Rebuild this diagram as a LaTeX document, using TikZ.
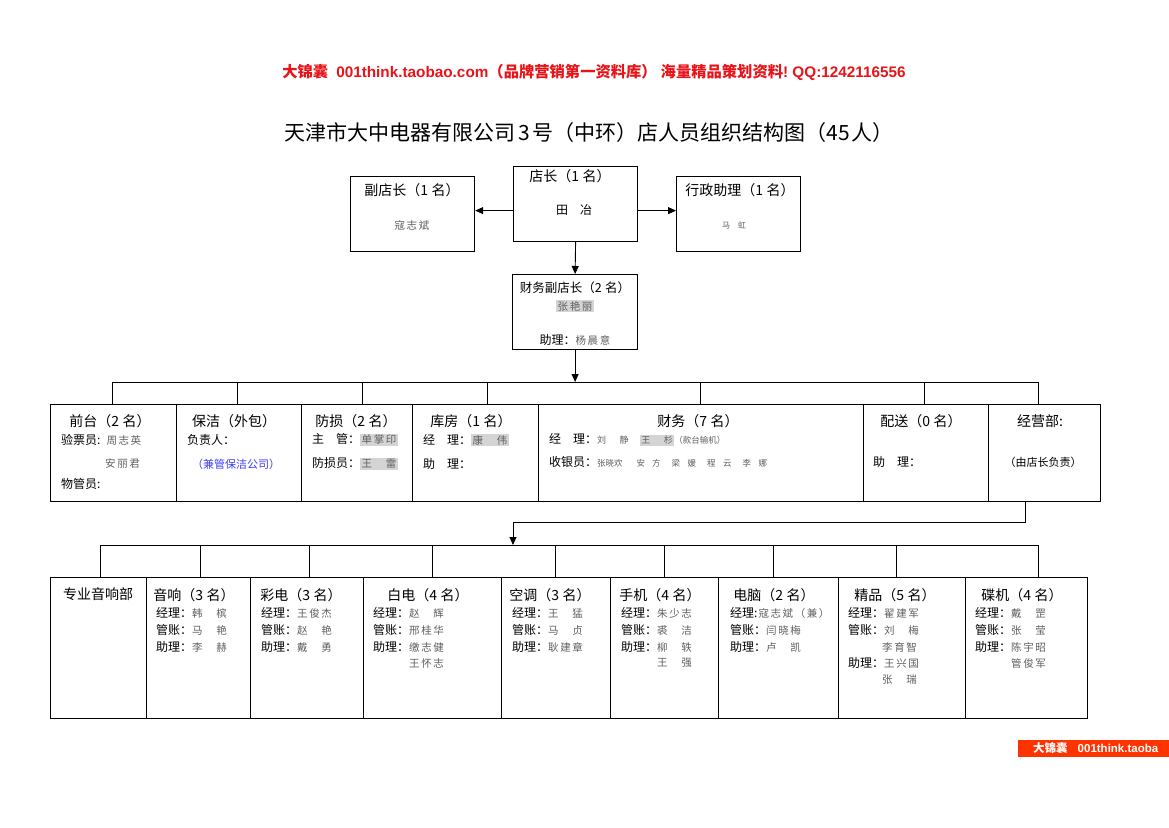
\documentclass[tikz,border=0pt]{standalone}
\usepackage{fontspec}
\setmainfont{Noto Sans CJK SC}
\newfontfamily\nmfont[LetterSpace=15]{Noto Sans CJK SC}
\newfontfamily\nmwide[LetterSpace=25]{Noto Sans CJK SC}
\newfontfamily\nmtight{Noto Sans CJK SC}
\newfontfamily\arialf{Liberation Sans}
\usetikzlibrary{arrows.meta}
\definecolor{hdrred}{RGB}{232,20,26}
\definecolor{ftred}{RGB}{255,51,0}
\definecolor{nmgray}{RGB}{95,95,95}
\definecolor{hlgray}{RGB}{212,212,212}
\definecolor{bluetxt}{RGB}{60,60,255}
\setlength{\fboxsep}{1.5pt}
\newcommand\lbf{\fontsize{12}{12}\selectfont}
\newcommand\hdf{\fontsize{14}{14}\selectfont}
\newcommand\nmx[1]{{\nmfont\fontsize{10.5}{10.5}\selectfont\color{nmgray}#1}}
\newcommand\nmw[1]{{\nmwide\fontsize{9}{9}\selectfont\color{nmgray}#1}}
\newcommand\nmt[1]{{\nmtight\fontsize{8.5}{8.5}\selectfont\color{nmgray}#1}}
\newcommand\hlx[1]{\colorbox{hlgray}{#1}}
\newcommand\cnt[1]{（#1\hspace{3.5pt}名）}
\begin{document}
\begin{tikzpicture}[x=1pt,y=-1pt,
  box/.style={draw, line width=1.2pt, inner sep=0pt, anchor=north west},
  txt/.style={inner sep=0pt, anchor=west},
  ctxt/.style={inner sep=0pt},
  bus/.style={line width=0.9pt},
  arr/.style={line width=0.9pt, -{Triangle[length=8pt,width=7pt]}}]
\useasboundingbox (0,0) rectangle (1169,827);
\fill[white] (0,0) rectangle (1169,827);

% header and title
\node[ctxt, text=hdrred] (hdr) at (594,72) {\bfseries\fontsize{15.3}{15.3}\selectfont 大锦囊\hspace{8pt}{\arialf 001think.taobao.com}（品牌营销第一资料库）\hspace{4pt}海量精品策划资料{\arialf !\ QQ:1242116556}};
\node[ctxt] (title) at (589,133) {\fontsize{21}{21}\selectfont 天津市大中电器有限公司\hspace{3pt}3\hspace{3pt}号（中环）店人员组织结构图（45\hspace{2pt}人）};

% top boxes
\node[box, minimum width=124pt, minimum height=75pt] (dz) at (513,166) {};
\node[box, minimum width=124pt, minimum height=75pt] (fdz) at (350,176) {};
\node[box, minimum width=124pt, minimum height=75pt] (xz) at (676,176) {};
\node[box, minimum width=125pt, minimum height=75pt] (cw) at (512,274) {};

\node[ctxt] (tfdz1) at (412,190) {\hdf 副店长\cnt{1}};
\node[ctxt] (tfdz2) at (412,225) {\nmx{寇志斌}};
\node[ctxt] (tdz1) at (570,176) {\hdf 店长\cnt{1}};
\node[ctxt] (tdz2) at (574,210) {\lbf 田　冶};
\node[ctxt] (txz1) at (740,190) {\hdf 行政助理\cnt{1}};
\node[ctxt] (txz2) at (734,225) {{\fontsize{8}{8}\selectfont\color{nmgray}马　虹}};
\node[ctxt] (tcw1) at (575,288) {\fontsize{12.5}{12.5}\selectfont 财务副店长\cnt{2}};
\node[ctxt] (tcw2) at (575,306) {\hlx{\nmx{张艳丽}}};
\node[ctxt] (tcw3) at (575,340) {\lbf 助理：\nmx{杨晨意}};

\coordinate (aL) at ([yshift=-6.5pt]dz.west);
\coordinate (aR) at ([yshift=-6.5pt]dz.east);
\draw[arr] (aL) -- (aL -| fdz.east);
\draw[arr] (aR) -- (aR -| xz.west);
\draw[arr] (dz.south) -- (cw.north);

% middle boxes
\node[box, minimum width=126pt, minimum height=97pt] (qt) at (50,404) {};
\node[box, minimum width=125pt, minimum height=97pt] (bj) at (176,404) {};
\node[box, minimum width=111pt, minimum height=97pt] (fs) at (301,404) {};
\node[box, minimum width=126pt, minimum height=97pt] (kf) at (412,404) {};
\node[box, minimum width=325pt, minimum height=97pt] (cwu) at (538,404) {};
\node[box, minimum width=125pt, minimum height=97pt] (ps) at (863,404) {};
\node[box, minimum width=112pt, minimum height=97pt] (jy) at (988,404) {};

\coordinate (bus1) at (cw.south |- 0,382);
\draw[arr] (cw.south) -- (bus1);
\draw[bus] (112,382) -- (1038,382);
\draw[bus] (112,382) -- (112,382 |- qt.north);
\draw[bus] (237,382) -- (237,382 |- bj.north);
\draw[bus] (362,382) -- (362,382 |- fs.north);
\draw[bus] (487,382) -- (487,382 |- kf.north);
\draw[bus] (700,382) -- (700,382 |- cwu.north);
\draw[bus] (924,382) -- (924,382 |- ps.north);
\draw[bus] (1038,382) -- (1038,382 |- jy.north);

% middle texts
\node[ctxt] (tqt0) at (110,421) {\hdf 前台\cnt{2}};
\node[txt] (tqt1) at (61,440) {\lbf 验票员:\hspace{6pt}\nmx{周志英}};
\node[txt] (tqt2) at (105,464) {\nmx{安丽君}};
\node[txt] (tqt3) at (61,484) {\lbf 物管员:};

\node[ctxt] (tbj0) at (234,421) {\hdf 保洁（外包）};
\node[txt] (tbj1) at (187,440) {\lbf 负责人：};
\node[ctxt] (tbj2) at (236,464) {{\fontsize{11}{11}\selectfont\color{bluetxt}（兼管保洁公司）}};

\node[ctxt] (tfs0) at (356,421) {\hdf 防损\cnt{2}};
\node[txt] (tfs1) at (312,440) {\lbf 主　管：\hlx{\nmx{单掌印}}};
\node[txt] (tfs2) at (312,464) {\lbf 防损员：\hlx{\nmx{王　雷}}};

\node[ctxt] (tkf0) at (471,421) {\hdf 库房\cnt{1}};
\node[txt] (tkf1) at (423,440) {\lbf 经　理：\hlx{\nmx{康　伟}}};
\node[txt] (tkf2) at (423,464) {\lbf 助　理：};

\node[ctxt] (tcu0) at (698,421) {\hdf 财务\cnt{7}};
\node[txt] (tcu1) at (549,440) {\lbf 经　理：\nmw{刘　静　}\hlx{\nmw{王　杉}}\nmt{（款台输机）}};
\node[txt] (tcu2) at (549,462) {\lbf 收银员：\nmt{张晓欢\hspace{14pt}安\hspace{7pt}方\hspace{11pt}梁\hspace{7.5pt}媛\hspace{11pt}程\hspace{7.5pt}云\hspace{11pt}李\hspace{7.5pt}娜}};

\node[ctxt] (tps0) at (921,421) {\hdf 配送\cnt{0}};
\node[txt] (tps1) at (873,462) {\lbf 助　理：};

\node[ctxt] (tjy0) at (1040,421) {\hdf 经营部:};
\node[ctxt] (tjy1) at (1043,462) {{\fontsize{11}{11}\selectfont （由店长负责）}};

% second connector
\coordinate (c2a) at (1025,501);
\coordinate (c2b) at (1025,522);
\coordinate (c2c) at (513,522);
\coordinate (c2d) at (513,545);
\draw[bus] (c2a |- jy.south) -- (c2b) -- (c2c);
\draw[arr] (c2c) -- (c2d);

% bottom boxes
\node[box, minimum width=96pt, minimum height=141pt] (zy) at (50,577) {};
\node[box, minimum width=104pt, minimum height=141pt] (yx) at (146,577) {};
\node[box, minimum width=113pt, minimum height=141pt] (cd) at (250,577) {};
\node[box, minimum width=138pt, minimum height=141pt] (bd) at (363,577) {};
\node[box, minimum width=109pt, minimum height=141pt] (kt) at (501,577) {};
\node[box, minimum width=108pt, minimum height=141pt] (sj) at (610,577) {};
\node[box, minimum width=120pt, minimum height=141pt] (dn) at (718,577) {};
\node[box, minimum width=127pt, minimum height=141pt] (jp) at (838,577) {};
\node[box, minimum width=122pt, minimum height=141pt] (dj) at (965,577) {};

\draw[bus] (100,545) -- (1038,545);
\draw[bus] (100,545) -- (100,545 |- zy.north);
\draw[bus] (200,545) -- (200,545 |- yx.north);
\draw[bus] (309,545) -- (309,545 |- cd.north);
\draw[bus] (432,545) -- (432,545 |- bd.north);
\draw[bus] (555,545) -- (555,545 |- kt.north);
\draw[bus] (664,545) -- (664,545 |- sj.north);
\draw[bus] (773,545) -- (773,545 |- dn.north);
\draw[bus] (896,545) -- (896,545 |- jp.north);
\draw[bus] (1038,545) -- (1038,545 |- dj.north);

% bottom texts
\node[ctxt] (tzy0) at (98,594) {\hdf 专业音响部};

\node[ctxt] (tyx0) at (194,595) {\hdf 音响\cnt{3}};
\node[txt] (tyx1) at (156,613) {\lbf 经理：\nmx{韩　槟}};
\node[txt] (tyx2) at (156,630) {\lbf 管账：\nmx{马　艳}};
\node[txt] (tyx3) at (156,647) {\lbf 助理：\nmx{李　赫}};

\node[ctxt] (tcd0) at (301,595) {\hdf 彩电\cnt{3}};
\node[txt] (tcd1) at (261,613) {\lbf 经理：\nmx{王俊杰}};
\node[txt] (tcd2) at (261,630) {\lbf 管账：\nmx{赵　艳}};
\node[txt] (tcd3) at (261,647) {\lbf 助理：\nmx{戴　勇}};

\node[ctxt] (tbd0) at (428,595) {\hdf 白电\cnt{4}};
\node[txt] (tbd1) at (373,613) {\lbf 经理：\nmx{赵　辉}};
\node[txt] (tbd2) at (373,630) {\lbf 管账：\nmx{邢桂华}};
\node[txt] (tbd3) at (373,647) {\lbf 助理：\nmx{缴志健}};
\node[txt] (tbd4) at (409,663) {\nmx{王怀志}};

\node[ctxt] (tkt0) at (550,595) {\hdf 空调\cnt{3}};
\node[txt] (tkt1) at (512,613) {\lbf 经理：\nmx{王　猛}};
\node[txt] (tkt2) at (512,630) {\lbf 管账：\nmx{马　贞}};
\node[txt] (tkt3) at (512,647) {\lbf 助理：\nmx{耿建章}};

\node[ctxt] (tsj0) at (660,595) {\hdf 手机\cnt{4}};
\node[txt] (tsj1) at (621,613) {\lbf 经理：\nmx{朱少志}};
\node[txt] (tsj2) at (621,630) {\lbf 管账：\nmx{裘　洁}};
\node[txt] (tsj3) at (621,647) {\lbf 助理：\nmx{柳　轶}};
\node[txt] (tsj4) at (657,663) {\nmx{王　强}};

\node[ctxt] (tdn0) at (774,595) {\hdf 电脑\cnt{2}};
\node[txt] (tdn1) at (730,613) {\lbf 经理:\hspace{1pt}\nmx{寇志斌（兼）}};
\node[txt] (tdn2) at (730,630) {\lbf 管账：\nmx{闫晓梅}};
\node[txt] (tdn3) at (730,647) {\lbf 助理：\nmx{卢　凯}};

\node[ctxt] (tjp0) at (895,595) {\hdf 精品\cnt{5}};
\node[txt] (tjp1) at (848,613) {\lbf 经理：\nmx{翟建军}};
\node[txt] (tjp2) at (848,630) {\lbf 管账：\nmx{刘　梅}};
\node[txt] (tjp3) at (882,647) {\nmx{李育智}};
\node[txt] (tjp4) at (848,663) {\lbf 助理：\nmx{王兴国}};
\node[txt] (tjp5) at (882,680) {\nmx{张　瑞}};

\node[ctxt] (tdj0) at (1022,595) {\hdf 碟机\cnt{4}};
\node[txt] (tdj1) at (975,613) {\lbf 经理：\nmx{戴　罡}};
\node[txt] (tdj2) at (975,630) {\lbf 管账：\nmx{张　莹}};
\node[txt] (tdj3) at (975,647) {\lbf 助理：\nmx{陈宇昭}};
\node[txt] (tdj4) at (1011,663) {\nmx{管俊军}};

% footer
\node[fill=ftred, inner sep=0pt, anchor=north west, minimum width=151pt, minimum height=17pt] (ft) at (1018,740) {};
\node[txt, text=white] (ftt) at (1033,748.5) {\bfseries\fontsize{11.5}{11.5}\selectfont 大锦囊\hspace{10pt}{\arialf 001think.taoba}};
\end{tikzpicture}
\end{document}
